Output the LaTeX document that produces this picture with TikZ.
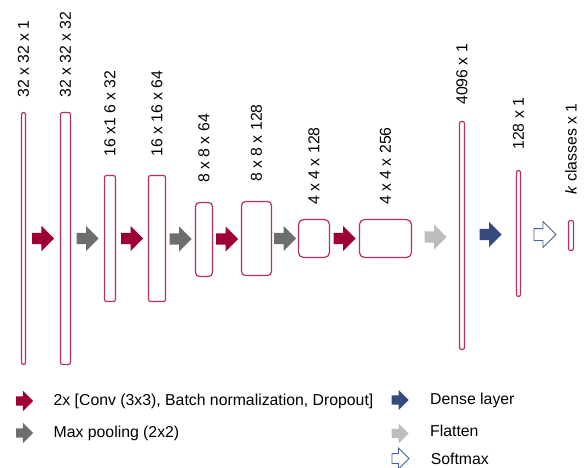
\documentclass[tikz,border=0pt]{standalone}
\usepackage{fontspec}
\setmainfont{Liberation Sans}
\usetikzlibrary{shapes.arrows, calc, positioning}

\definecolor{layerred}{HTML}{B5305C}
\definecolor{convred}{HTML}{9E0034}
\definecolor{poolgray}{HTML}{6E6E6E}
\definecolor{flatgray}{HTML}{BDBDBD}
\definecolor{denseblue}{HTML}{354A7D}
\definecolor{softblue}{HTML}{4A6296}

\begin{document}
\begin{tikzpicture}[x=1pt, y=-1pt,
        layer/.style = {draw=layerred, line width=1.2pt, fill=white, rounded corners=2pt, inner sep=0pt},
        dim/.style = {rotate=90, anchor=west, inner sep=0pt, font=\fontsize{15.8}{19}\selectfont},
        op/.style = {single arrow, draw=none, inner xsep=0pt, inner ysep=5.5pt, minimum height=22pt, single arrow head extend=7pt, anchor=tail, xshift=-11pt},
        legop/.style = {single arrow, draw=none, inner xsep=0pt, inner ysep=4.5pt, minimum height=17pt, single arrow head extend=5.5pt, anchor=tail, xshift=-8.5pt},
        legtext/.style = {anchor=west, inner sep=0pt, font=\fontsize{15.8}{19}\selectfont},
        conv/.style = {fill=convred},
        pool/.style = {fill=poolgray},
        flat/.style = {fill=flatgray},
        dense/.style = {fill=denseblue},
        soft/.style = {draw=softblue, line width=0.9pt, fill=white}]
            \useasboundingbox (0,0) rectangle (584,468);

            % feature maps
            \node[layer, minimum width=4pt, minimum height=252pt] (L1) at (23.5,238.5) {};
            \node[layer, minimum width=10pt, minimum height=252pt] (L2) at (65.5,238.5) {};
            \node[layer, minimum width=11pt, minimum height=126pt] (L3) at (110,238.5) {};
            \node[layer, minimum width=17pt, minimum height=126pt] (L4) at (157,238.5) {};
            \node[layer, rounded corners=4pt, minimum width=17pt, minimum height=74pt] (L5) at (204,239.5) {};
            \node[layer, rounded corners=4pt, minimum width=30pt, minimum height=74pt] (L6) at (256.5,238.5) {};
            \node[layer, rounded corners=5pt, minimum width=31pt, minimum height=38pt] (L7) at (314,238.5) {};
            \node[layer, rounded corners=5pt, minimum width=52pt, minimum height=38pt] (L8) at (385.5,238.5) {};
            \node[layer, minimum width=5pt, minimum height=228pt] (L9) at (462,235.5) {};
            \node[layer, minimum width=4pt, minimum height=126pt] (L10) at (518.5,233.5) {};
            \node[layer, minimum width=5pt, minimum height=30pt] (L11) at (571,235.5) {};

            \node[dim] (D1) at ([yshift=14pt]L1.north) {32 x 32 x 1};
            \node[dim] (D2) at ([yshift=14pt]L2.north) {32 x 32 x 32};
            \node[dim] (D3) at ([yshift=18pt]L3.north) {16 x1 6 x 32};
            \node[dim] (D4) at ([yshift=18pt]L4.north) {16 x 16 x 64};
            \node[dim] (D5) at ([yshift=19pt]L5.north) {8 x 8 x 64};
            \node[dim] (D6) at ([yshift=19pt]L6.north) {8 x 8 x 128};
            \node[dim] (D7) at ([yshift=14pt]L7.north) {4 x 4 x 128};
            \node[dim] (D8) at ([yshift=14pt]L8.north) {4 x 4 x 256};
            \node[dim] (D9) at ([yshift=16pt]L9.north) {4096 x 1};
            \node[dim] (D10) at ([yshift=20pt]L10.north) {128 x 1};
            \node[dim] (D11) at ([yshift=25pt]L11.north) {\textit{k} classes x 1};

            % operations
            \node[op, conv] (A1) at ($(L1.east)!0.5!(L2.west)$) {};
            \node[op, pool] (A2) at ($(L2.east)!0.5!(L3.west)$) {};
            \node[op, conv] (A3) at ($(L3.east)!0.5!(L4.west)$) {};
            \node[op, pool] (A4) at ($(L4.east)!0.5!(L5.west)$) {};
            \node[op, conv] (A5) at ($(L5.east)!0.5!(L6.west)$) {};
            \node[op, pool] (A6) at ($(L6.east)!0.5!(L7.west)$) {};
            \node[op, conv] (A7) at ($(L7.east)!0.5!(L8.west)$) {};
            \node[op, flat] (A8) at ($(L8.east)!0.5!(L9.west)$) {};
            \node[op, dense] (A9) at ($(L9.east)!0.5!(L10.west)$) {};
            \node[op, soft] (A10) at ($(L10.east)!0.5!(L11.west)$) {};

            % legend
            \node[legop, conv] (K1) at (24.5,401) {};
            \node[legtext, right=20pt of K1.tip] (T1) {2x [Conv (3x3), Batch normalization, Dropout]};
            \node[legop, pool] (K2) at (24.5,433) {};
            \node[legtext, right=20pt of K2.tip] (T2) {Max pooling (2x2)};
            \node[legop, dense] (K3) at (400,400) {};
            \node[legtext, right=21pt of K3.tip] (T3) {Dense layer};
            \node[legop, flat] (K4) at (400,433.5) {};
            \node[legtext, right=21pt of K4.tip, yshift=2.5pt] (T4) {Flatten};
            \node[legop, soft] (K5) at (400,458.5) {};
            \node[legtext, right=21pt of K5.tip] (T5) {Softmax};
        \end{tikzpicture}
\end{document}
